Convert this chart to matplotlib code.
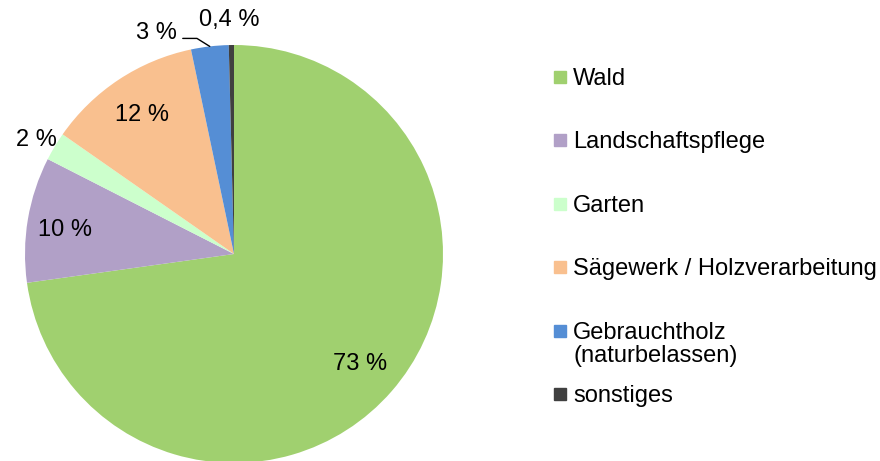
import numpy as np
import matplotlib
matplotlib.use("Agg")
import matplotlib.pyplot as plt
from matplotlib.patches import Rectangle

plt.rcParams['font.family'] = ['Liberation Sans', 'DejaVu Sans']

# data
categories = ["Wald", "Landschaftspflege", "Garten", "Sägewerk / Holzverarbeitung",
              "Gebrauchtholz\n(naturbelassen)", "sonstiges"]
shares = [72.8, 9.7, 2.2, 12.0, 2.9, 0.4]
share_labels = ["73 %", "10 %", "2 %", "12 %", "3 %", "0,4 %"]
colors = ["#A0D06F", "#B1A0C7", "#CCFFCC", "#F9C08F", "#558ED5", "#404040"]

W, H = 880, 461
fig = plt.figure(figsize=(W / 100, H / 100), dpi=100)

# pie centre ~ (234, 254) px, radius ~ 209 px
cx, cy, r = 234, 254, 209
ax = fig.add_axes([(cx - r) / W, (H - cy - r) / H, 2 * r / W, 2 * r / H])
wedges, _ = ax.pie(shares, colors=colors, startangle=90, counterclock=False,
                   wedgeprops=dict(linewidth=0), radius=1)
for w in wedges:
    w.set_clip_on(False)
ax.set_xlim(-1, 1)
ax.set_ylim(-1, 1)
ax.set_aspect("equal")
ax.axis("off")

fs = 17
for i, (w, lab) in enumerate(zip(wedges, share_labels)):
    mid = np.deg2rad((w.theta1 + w.theta2) / 2)
    ex, ey = np.cos(mid), np.sin(mid)
    if i in (0, 3):
        d = 0.8
        ax.text(d * ex, d * ey, lab, ha="center", va="center",
                fontsize=fs, clip_on=False)
    elif i == 1:
        d = 0.8
        ax.text(d * ex - 0.02, d * ey - 0.02, lab, ha="center", va="center",
                fontsize=fs, clip_on=False)
    elif i == 2:
        d = 1.1
        ax.text(d * ex, d * ey - 0.02, lab, ha="center", va="center",
                fontsize=fs, clip_on=False)
    elif i == 4:
        # leader line from label to wedge edge
        ax.annotate("", xy=(ex, ey), xytext=(-27, 8), textcoords="offset pixels",
                    annotation_clip=False,
                    arrowprops=dict(arrowstyle="-", color="black", lw=1.0,
                                    shrinkA=0, shrinkB=0,
                                    connectionstyle="angle,angleA=0,angleB=-32,rad=0"))
        ax.annotate(lab, xy=(ex, ey), xytext=(-33, 13), textcoords="offset pixels",
                    ha="right", va="center", fontsize=fs, annotation_clip=False)
    else:
        ax.annotate(lab, xy=(ex, ey), xytext=(-2, 25), textcoords="offset pixels",
                    ha="center", va="center", fontsize=fs, annotation_clip=False)

# legend, drawn by hand so that the two-line entry keeps its marker on the first line
ly0, lstep = 86, 63.4
for i, (cat, col) in enumerate(zip(categories, colors)):
    y = ly0 + i * lstep
    fig.patches.append(Rectangle((554 / W, 1 - (y - 3) / H), 12 / W, 12 / H,
                                 transform=fig.transFigure, color=col))
    fig.text(573 / W, 1 - (y - 18) / H, cat, ha="left", va="top", fontsize=fs,
             linespacing=1.1)

fig.savefig("out.png", dpi=100)
